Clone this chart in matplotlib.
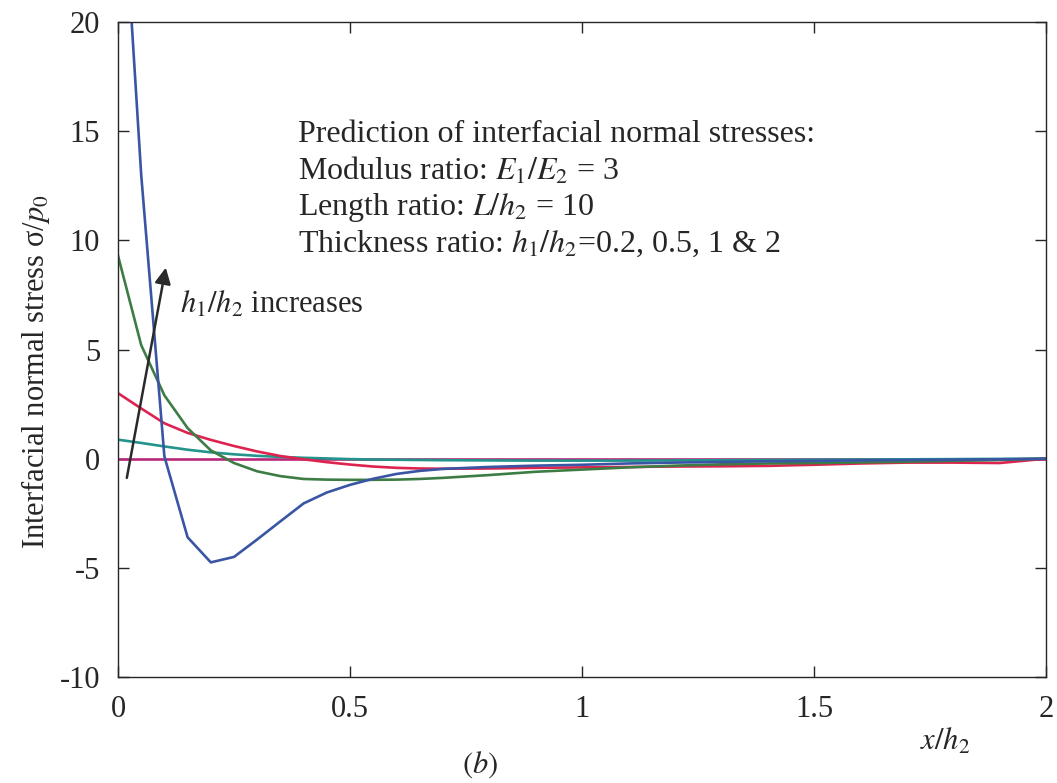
import matplotlib
matplotlib.use("Agg")
import matplotlib.pyplot as plt
from matplotlib.ticker import FuncFormatter

plt.rcParams['font.family'] = ['Liberation Serif', 'DejaVu Serif']
plt.rcParams['mathtext.fontset'] = 'stix'
plt.rcParams['axes.unicode_minus'] = False

# x/h2 positions
x_vals = [0, 0.05, 0.1, 0.15, 0.2, 0.25, 0.3, 0.35, 0.4, 0.45, 0.5, 0.55, 0.6, 0.65, 0.7,
          0.8, 0.9, 1.0, 1.1, 1.2, 1.3, 1.4, 1.5, 1.6, 1.7, 1.8, 1.9, 2.0]

# h1/h2 = 0.2 (teal)
s_02 = [0.87, 0.72, 0.56, 0.41, 0.29, 0.2, 0.13, 0.08, 0.04, 0.01, -0.02, -0.04, -0.05, -0.06, -0.07,
        -0.08, -0.09, -0.09, -0.09, -0.08, -0.07, -0.06, -0.05, -0.04, -0.03, -0.02, -0.01, 0.0]
# h1/h2 = 0.5 (red)
s_05 = [3.0, 2.3, 1.62, 1.18, 0.86, 0.58, 0.33, 0.12, -0.03, -0.16, -0.27, -0.36, -0.42, -0.45, -0.46,
        -0.45, -0.42, -0.4, -0.38, -0.36, -0.35, -0.33, -0.28, -0.22, -0.18, -0.18, -0.2, 0.0]
# h1/h2 = 1 (green)
s_1 = [9.3, 5.2, 2.9, 1.4, 0.38, -0.2, -0.58, -0.8, -0.93, -0.96, -0.97, -0.97, -0.96, -0.93, -0.88,
       -0.75, -0.6, -0.5, -0.4, -0.32, -0.26, -0.22, -0.2, -0.17, -0.14, -0.1, -0.06, 0.0]
# h1/h2 = 2 (blue)
s_2 = [30.0, 13.0, 0.1, -3.6, -4.75, -4.5, -3.7, -2.87, -2.05, -1.55, -1.2, -0.92, -0.7, -0.56, -0.47,
       -0.38, -0.32, -0.28, -0.22, -0.18, -0.15, -0.12, -0.1, -0.08, -0.06, -0.05, -0.03, 0.0]

zero_x = [0, 2]
zero_y = [0, 0]

x_ticks = [0, 0.5, 1, 1.5, 2]
x_ticklabels = ['0', '0.5', '1', '1.5', '2']
y_ticks = [-10, -5, 0, 5, 10, 15, 20]

TXT = '#262626'

fig = plt.figure(figsize=(10.57, 7.83), dpi=100)
ax = fig.add_axes([118/1057, 1 - 677/783, 928/1057, 655/783])

lw = 1.9
ax.plot(zero_x, zero_y, color='#b8287a', lw=lw)
ax.plot(x_vals, s_02, color='#23948c', lw=lw)
ax.plot(x_vals, s_05, color='#dd2450', lw=lw)
ax.plot(x_vals, s_1, color='#3d7d45', lw=lw)
ax.plot(x_vals, s_2, color='#3a55a4', lw=lw)

ax.set_xlim(0, 2)
ax.set_ylim(-10, 20)
ax.set_xticks(x_ticks)
ax.set_xticklabels(x_ticklabels)
ax.set_yticks(y_ticks)
ax.yaxis.set_major_formatter(FuncFormatter(lambda v, p: '%d' % v))
ax.tick_params(direction='in', length=8, width=1, top=True, right=True,
               labelsize=22, pad=13, colors=TXT)
for sp in ax.spines.values():
    sp.set_linewidth(1.0)
    sp.set_color(TXT)

ax.set_ylabel(r'Interfacial normal stress σ/$p_0$', fontsize=22, color=TXT)
ax.yaxis.set_label_coords(-0.071, 0.466)

# arrow
ax.annotate('', xy=(0.103, 8.75), xytext=(0.019, -0.88),
            arrowprops=dict(arrowstyle='-|>', color='#2a2a2a', lw=1.8,
                            mutation_scale=24, shrinkA=0, shrinkB=0))
ax.text(0.134, 7.05, r'$h_1/h_2$ increases', fontsize=22, va='center', ha='left', color=TXT)

lines = ['Prediction of interfacial normal stresses:',
         r'Modulus ratio: $E_1/E_2$ = 3',
         r'Length ratio: $L/h_2$ = 10',
         r'Thickness ratio: $h_1/h_2$=0.2, 0.5, 1 & 2']
ys = [14.85, 13.18, 11.51, 9.84]
for t, yy in zip(lines, ys):
    ax.text(0.387, yy, t, fontsize=23, va='center', ha='left', color=TXT)

fig.text(945/1057, 1 - 742/783, r'$x/h_2$', fontsize=22, ha='center', va='center', color=TXT)
fig.text(480/1057, 1 - 765/783, r'$(b)$', fontsize=22, ha='center', va='center', color=TXT)

fig.savefig('out.png', dpi=100)
